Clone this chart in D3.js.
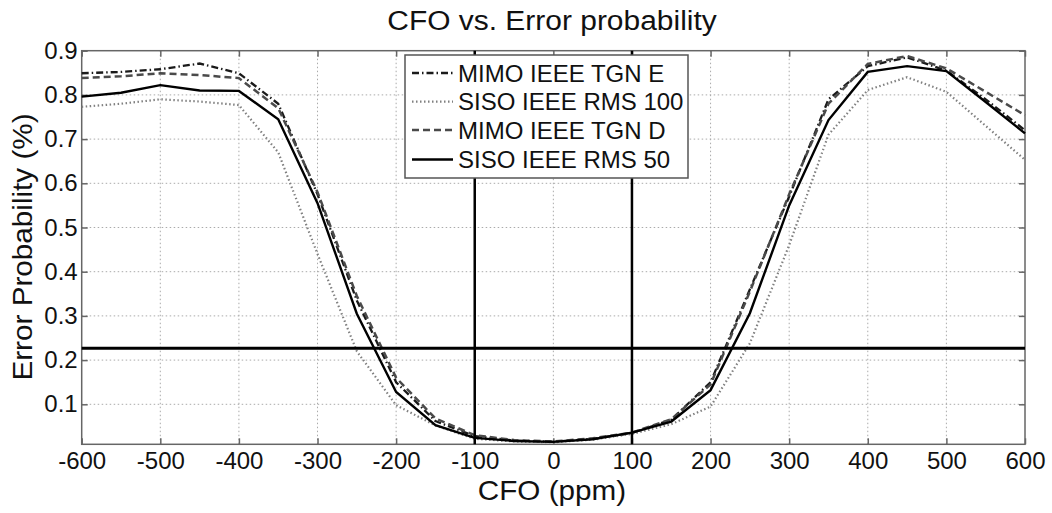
<!DOCTYPE html>
<html><head><meta charset="utf-8">
<script src="https://cdn.jsdelivr.net/npm/d3@7"></script>
<style>body{margin:0;background:#fff}svg{display:block}text{font-family:"Liberation Sans",Arial,sans-serif;fill:#111}</style>
</head><body>
<svg id="c" width="1052" height="513"></svg>
<script>
const cfo = [-600,-550,-500,-450,-400,-350,-300,-250,-200,-150,-100,-50,0,50,100,150,200,250,300,350,400,450,500,550,600];
const mimoE  = [0.849,0.852,0.858,0.871,0.849,0.780,0.575,0.335,0.150,0.062,0.028,0.018,0.015,0.022,0.035,0.065,0.150,0.360,0.570,0.790,0.865,0.885,0.855,0.790,0.720];
const siso100= [0.773,0.780,0.790,0.785,0.777,0.670,0.440,0.220,0.098,0.052,0.022,0.016,0.014,0.020,0.033,0.055,0.095,0.238,0.460,0.710,0.811,0.840,0.807,0.730,0.653];
const mimoD  = [0.838,0.842,0.849,0.845,0.838,0.770,0.580,0.345,0.160,0.068,0.030,0.019,0.016,0.023,0.036,0.066,0.145,0.355,0.575,0.780,0.870,0.888,0.860,0.807,0.754];
const siso50 = [0.796,0.805,0.822,0.810,0.809,0.745,0.555,0.305,0.128,0.053,0.024,0.017,0.015,0.021,0.036,0.061,0.132,0.306,0.550,0.743,0.852,0.865,0.854,0.784,0.713];
const seriesNames = ["MIMO IEEE TGN E","SISO IEEE RMS 100","MIMO IEEE TGN D","SISO IEEE RMS 50"];
const xTicks = [-600,-500,-400,-300,-200,-100,0,100,200,300,400,500,600];
const yTicks = [0.1,0.2,0.3,0.4,0.5,0.6,0.7,0.8,0.9];
const thresholdY = 0.227;
const thresholdX = [-100,100];
const title = "CFO vs. Error probability";
const xLabel = "CFO (ppm)";
const yLabel = "Error Probability (%)";

const svg = d3.select("#c");
const L=81.7,R=1025,T=50.7,B=444.3;
const x = d3.scaleLinear().domain([-600,600]).range([L,R]);
const y = d3.scaleLinear().domain([0.0095,0.9]).range([B,T]);

// grid
const g = svg.append("g");
g.selectAll(".gx").data(xTicks.slice(1,-1)).join("line")
  .attr("x1",d=>x(d)).attr("x2",d=>x(d)).attr("y1",T).attr("y2",B)
  .attr("stroke","#aaa").attr("stroke-width",1).attr("stroke-dasharray","1.5,2.5");
g.selectAll(".gy").data(yTicks.slice(0,-1)).join("line")
  .attr("y1",d=>y(d)).attr("y2",d=>y(d)).attr("x1",L).attr("x2",R)
  .attr("stroke","#aaa").attr("stroke-width",1).attr("stroke-dasharray","1.5,2.5");

// axes via d3
const xAxisB = d3.axisBottom(x).tickValues(xTicks).tickSize(-6).tickFormat(d=>String(d));
const yAxisL = d3.axisLeft(y).tickValues(yTicks).tickSize(-6).tickPadding(4).tickFormat(d3.format(".1f"));
const ax = svg.append("g").attr("transform",`translate(0,${B})`).call(xAxisB);
const ay = svg.append("g").attr("transform",`translate(${L},0)`).call(yAxisL);
svg.append("g").attr("transform",`translate(0,${T})`).call(d3.axisTop(x).tickValues(xTicks).tickSize(-6).tickFormat(""));
svg.append("g").attr("transform",`translate(${R},0)`).call(d3.axisRight(y).tickValues(yTicks).tickSize(-6).tickFormat(""));
svg.selectAll(".domain").remove();
svg.selectAll(".tick line").attr("stroke","#666").attr("stroke-width",1.5);
ax.selectAll("text").attr("font-size",24).attr("fill","#111").attr("y",25).attr("dy",0);
ay.selectAll("text").attr("font-size",24).attr("fill","#111");
svg.append("rect").attr("x",L).attr("y",T).attr("width",R-L).attr("height",B-T)
  .attr("fill","none").attr("stroke","#666").attr("stroke-width",1.5);

// series
const styles = [
  {data:mimoE, color:"#1a1a1a", w:2.3, dash:"7,3,1.5,3"},
  {data:siso100, color:"#808080", w:2.2, dash:"1.5,2.5"},
  {data:mimoD, color:"#4a4a4a", w:2.5, dash:"7,4"},
  {data:siso50, color:"#000", w:2.4, dash:null}
];
const line = d3.line().x(d=>x(d[0])).y(d=>y(d[1]));
styles.forEach(s=>{
  svg.append("path").datum(cfo.map((c,i)=>[c,s.data[i]]))
    .attr("d",line).attr("fill","none").attr("stroke",s.color)
    .attr("stroke-width",s.w).attr("stroke-dasharray",s.dash);
});

// threshold lines
svg.append("line").attr("x1",x(-600)).attr("x2",x(600)).attr("y1",y(thresholdY)).attr("y2",y(thresholdY))
  .attr("stroke","#000").attr("stroke-width",3);
svg.selectAll(".vt").data(thresholdX).join("line")
  .attr("x1",d=>x(d)).attr("x2",d=>x(d)).attr("y1",T).attr("y2",B)
  .attr("stroke","#000").attr("stroke-width",2.5);

// legend
const lg = svg.append("g");
lg.append("rect").attr("x",405).attr("y",55).attr("width",283).attr("height",123)
  .attr("fill","#fff").attr("stroke","#555").attr("stroke-width",1.5);
const rows=[73,101.7,130,159.5];
styles.forEach((s,i)=>{
  lg.append("line").attr("x1",412).attr("x2",453).attr("y1",rows[i]).attr("y2",rows[i])
    .attr("stroke",s.color).attr("stroke-width",s.w).attr("stroke-dasharray",s.dash);
  lg.append("text").attr("x",458).attr("y",rows[i]).attr("dy","0.36em")
    .attr("font-size",24).text(seriesNames[i]);
});

// titles
svg.append("text").attr("transform","translate(552,30) scale(1.07,1)").attr("text-anchor","middle")
  .attr("font-size",28).text(title);
svg.append("text").attr("transform","translate(552,500) scale(1.06,1)").attr("text-anchor","middle")
  .attr("font-size",28).text(xLabel);
svg.append("text").attr("transform","translate(31.5,247) rotate(-90) scale(1.06,1)").attr("text-anchor","middle")
  .attr("font-size",28).text(yLabel);
</script>
</body></html>
